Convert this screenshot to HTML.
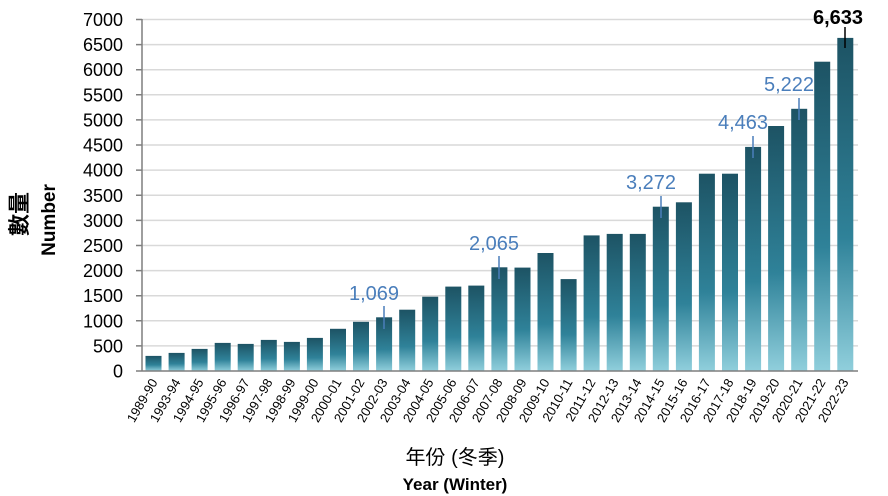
<!DOCTYPE html>
<html><head><meta charset="utf-8"><style>
body{margin:0;background:#fff}
svg{display:block;font-family:"Liberation Sans","Noto Sans CJK TC",sans-serif}
</style></head><body>
<svg width="888" height="496" viewBox="0 0 888 496">
<defs><linearGradient id="g" x1="0" y1="0" x2="0" y2="1"><stop offset="0" stop-color="#1d5364"/><stop offset="0.6" stop-color="#2f8299"/><stop offset="1" stop-color="#90cfdc"/></linearGradient></defs>
<g stroke="#d9d9d9" stroke-width="1.5">
<line x1="142" x2="858" y1="19.5" y2="19.5"/><line x1="142" x2="858" y1="44.6" y2="44.6"/><line x1="142" x2="858" y1="69.7" y2="69.7"/><line x1="142" x2="858" y1="94.8" y2="94.8"/><line x1="142" x2="858" y1="119.9" y2="119.9"/><line x1="142" x2="858" y1="145" y2="145"/><line x1="142" x2="858" y1="170.1" y2="170.1"/><line x1="142" x2="858" y1="195.3" y2="195.3"/><line x1="142" x2="858" y1="220.4" y2="220.4"/><line x1="142" x2="858" y1="245.5" y2="245.5"/><line x1="142" x2="858" y1="270.6" y2="270.6"/><line x1="142" x2="858" y1="295.7" y2="295.7"/><line x1="142" x2="858" y1="320.8" y2="320.8"/><line x1="142" x2="858" y1="345.9" y2="345.9"/>
</g>
<g font-size="18" text-anchor="end" fill="#000">
<text x="123" y="26">7000</text><text x="123" y="51.1">6500</text><text x="123" y="76.2">6000</text><text x="123" y="101.3">5500</text><text x="123" y="126.4">5000</text><text x="123" y="151.5">4500</text><text x="123" y="176.6">4000</text><text x="123" y="201.8">3500</text><text x="123" y="226.9">3000</text><text x="123" y="252">2500</text><text x="123" y="277.1">2000</text><text x="123" y="302.2">1500</text><text x="123" y="327.3">1000</text><text x="123" y="352.4">500</text><text x="123" y="377.5">0</text>
</g>
<g fill="url(#g)">
<rect x="145.5" y="355.9" width="16" height="15.1"/><rect x="168.6" y="352.9" width="16" height="18.1"/><rect x="191.6" y="348.9" width="16" height="22.1"/><rect x="214.7" y="342.9" width="16" height="28.1"/><rect x="237.7" y="343.9" width="16" height="27.1"/><rect x="260.8" y="339.9" width="16" height="31.1"/><rect x="283.9" y="341.9" width="16" height="29.1"/><rect x="306.9" y="337.9" width="16" height="33.1"/><rect x="330" y="328.8" width="16" height="42.2"/><rect x="353" y="321.8" width="16" height="49.2"/><rect x="376.1" y="317.3" width="16" height="53.7"/><rect x="399.2" y="309.7" width="16" height="61.3"/><rect x="422.2" y="296.7" width="16" height="74.3"/><rect x="445.3" y="286.6" width="16" height="84.4"/><rect x="468.3" y="285.6" width="16" height="85.4"/><rect x="491.4" y="267.3" width="16" height="103.7"/><rect x="514.5" y="267.6" width="16" height="103.4"/><rect x="537.5" y="253" width="16" height="118"/><rect x="560.6" y="279.1" width="16" height="91.9"/><rect x="583.6" y="235.4" width="16" height="135.6"/><rect x="606.7" y="233.9" width="16" height="137.1"/><rect x="629.8" y="233.9" width="16" height="137.1"/><rect x="652.8" y="206.7" width="16" height="164.3"/><rect x="675.9" y="202.3" width="16" height="168.7"/><rect x="698.9" y="173.7" width="16" height="197.3"/><rect x="722" y="173.7" width="16" height="197.3"/><rect x="745.1" y="146.9" width="16" height="224.1"/><rect x="768.1" y="126" width="16" height="245"/><rect x="791.2" y="108.8" width="16" height="262.2"/><rect x="814.2" y="61.7" width="16" height="309.3"/><rect x="837.3" y="37.9" width="16" height="333.1"/>
</g>
<g stroke="#7f7f7f" stroke-width="1.5">
<line x1="142" y1="19" x2="142" y2="371"/><line x1="136" y1="371" x2="858" y2="371"/>
<path d="M136 19.5h6M136 44.6h6M136 69.7h6M136 94.8h6M136 119.9h6M136 145h6M136 170.1h6M136 195.3h6M136 220.4h6M136 245.5h6M136 270.6h6M136 295.7h6M136 320.8h6M136 345.9h6"/>
</g>
<g fill="#000" font-size="13" text-anchor="end">
<text transform="translate(158,382) rotate(-60)">1989-90</text><text transform="translate(181,382) rotate(-60)">1993-94</text><text transform="translate(204,382) rotate(-60)">1994-95</text><text transform="translate(227,382) rotate(-60)">1995-96</text><text transform="translate(250,382) rotate(-60)">1996-97</text><text transform="translate(273,382) rotate(-60)">1997-98</text><text transform="translate(296,382) rotate(-60)">1998-99</text><text transform="translate(319,382) rotate(-60)">1999-00</text><text transform="translate(342,382) rotate(-60)">2000-01</text><text transform="translate(365,382) rotate(-60)">2001-02</text><text transform="translate(388,382) rotate(-60)">2002-03</text><text transform="translate(411,382) rotate(-60)">2003-04</text><text transform="translate(434,382) rotate(-60)">2004-05</text><text transform="translate(457,382) rotate(-60)">2005-06</text><text transform="translate(480,382) rotate(-60)">2006-07</text><text transform="translate(503,382) rotate(-60)">2007-08</text><text transform="translate(527,382) rotate(-60)">2008-09</text><text transform="translate(550,382) rotate(-60)">2009-10</text><text transform="translate(573,382) rotate(-60)">2010-11</text><text transform="translate(596,382) rotate(-60)">2011-12</text><text transform="translate(619,382) rotate(-60)">2012-13</text><text transform="translate(642,382) rotate(-60)">2013-14</text><text transform="translate(665,382) rotate(-60)">2014-15</text><text transform="translate(688,382) rotate(-60)">2015-16</text><text transform="translate(711,382) rotate(-60)">2016-17</text><text transform="translate(734,382) rotate(-60)">2017-18</text><text transform="translate(757,382) rotate(-60)">2018-19</text><text transform="translate(780,382) rotate(-60)">2019-20</text><text transform="translate(803,382) rotate(-60)">2020-21</text><text transform="translate(826,382) rotate(-60)">2021-22</text><text transform="translate(849,382) rotate(-60)">2022-23</text>
</g>
<g stroke="#4a7ebb" stroke-width="1.5">
<line x1="384" y1="306" x2="384" y2="329"/><line x1="499" y1="256" x2="499" y2="279"/><line x1="661" y1="196" x2="661" y2="218"/><line x1="753" y1="136" x2="753" y2="158"/><line x1="799" y1="98" x2="799" y2="120"/>
</g>
<line x1="845" y1="27" x2="845" y2="48" stroke="#000" stroke-width="1.5"/>
<g fill="#4a7ebb" font-size="20" text-anchor="middle">
<text x="374" y="300">1,069</text><text x="494" y="250">2,065</text><text x="651" y="189">3,272</text><text x="743" y="129">4,463</text><text x="789" y="91">5,222</text>
</g>
<text x="838" y="24" font-size="20" font-weight="bold" text-anchor="middle">6,633</text>
<text transform="translate(27,214) rotate(-90)" font-size="22" text-anchor="middle" font-weight="bold">數量</text>
<text transform="translate(55,220) rotate(-90)" font-size="19" text-anchor="middle" font-weight="bold">Number</text>
<text x="455" y="464" font-size="20" text-anchor="middle">年份 (冬季)</text>
<text x="455" y="490" font-size="17" font-weight="bold" text-anchor="middle">Year (Winter)</text>
</svg>
</body></html>
